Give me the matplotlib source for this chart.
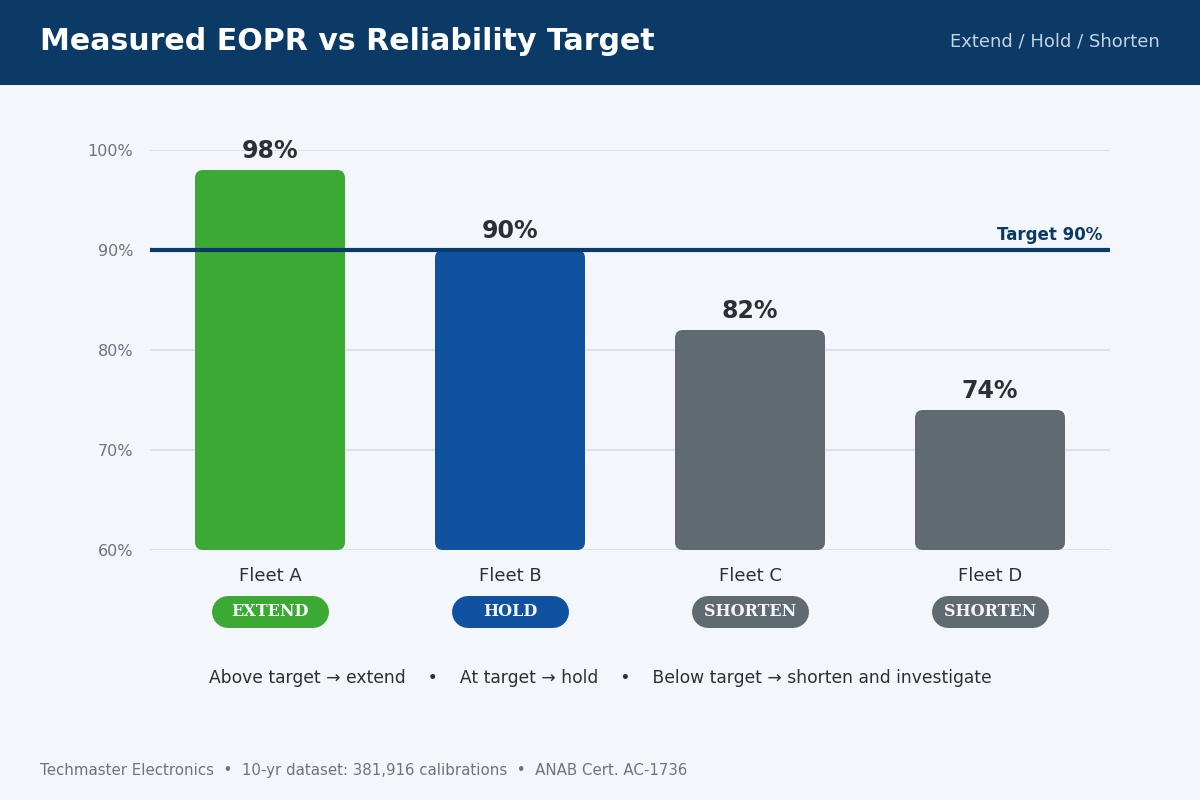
import matplotlib
matplotlib.use("Agg")
import matplotlib.pyplot as plt
from matplotlib.patches import FancyBboxPatch, Rectangle
from matplotlib.transforms import blended_transform_factory

categories = ["Fleet A", "Fleet B", "Fleet C", "Fleet D"]
eopr_values = [98, 90, 82, 74]
actions = ["EXTEND", "HOLD", "SHORTEN", "SHORTEN"]
target = 90
y_ticks = [60, 70, 80, 90, 100]
y_tick_labels = ["60%", "70%", "80%", "90%", "100%"]

BG = "#f3f6fa"
NAVY = "#0b3a66"
colors = {"EXTEND": "#3da935", "HOLD": "#1052a0", "SHORTEN": "#5f6b70"}
TEXT = "#2b3038"
MUTED = "#6b7580"

fig = plt.figure(figsize=(12, 8), dpi=100, facecolor=BG)

# header band
fig.patches.append(Rectangle((0, 1 - 85 / 800), 1, 85 / 800, transform=fig.transFigure,
                             facecolor=NAVY, edgecolor="none", zorder=0))
fig.text(40 / 1200, 1 - 42 / 800, "Measured EOPR vs Reliability Target", color="white",
         fontsize=21.6, fontweight="bold", ha="left", va="center")
fig.text(1160 / 1200, 1 - 42 / 800, "Extend / Hold / Shorten", color="#c5d3e3",
         fontsize=13, ha="right", va="center")

ax = fig.add_axes([150 / 1200, 250 / 800, 960 / 1200, 400 / 800])
ax.set_facecolor(BG)
ax.set_xlim(-0.5, len(categories) - 0.5)
ax.set_ylim(60, 100)
for s in ax.spines.values():
    s.set_visible(False)

for t in [60, 70, 80, 100]:
    ax.axhline(t, color="#d6e0e9", lw=1.3, zorder=1)
ax.axhline(target, color=NAVY, lw=3, zorder=3)
ax.text(len(categories) - 0.53, target + 0.65, f"Target {target}%", color=NAVY,
        fontsize=12, fontweight="bold", ha="right", va="bottom", zorder=4)

ax.set_yticks(y_ticks)
ax.set_yticklabels(y_tick_labels, color=MUTED, fontsize=11.5)
ax.tick_params(axis="y", length=0, pad=12)
ax.set_xticks([])

width = 150 / 240
bars = ax.bar(range(len(categories)), [v - 60 for v in eopr_values], bottom=60,
              width=width, alpha=0)
r_x = 8 / 240
r_y = 8 / 10
for b, v, a in zip(bars, eopr_values, actions):
    p = FancyBboxPatch((b.get_x(), 60), b.get_width(), v - 60,
                       boxstyle=f"round,pad=0,rounding_size={r_x}",
                       mutation_aspect=r_y / r_x,
                       facecolor=colors[a], edgecolor="none", zorder=2)
    ax.add_patch(p)
    ax.annotate(f"{v}%", (b.get_x() + b.get_width() / 2, v), xytext=(0, 5),
                textcoords="offset points", ha="center", va="bottom",
                fontsize=17, fontweight="bold", color=TEXT, zorder=5,
                annotation_clip=False)

trans = blended_transform_factory(ax.transData, ax.transAxes)
pill_h_px = 32
half_line = (117 - pill_h_px) / 2 / 240
for i, (c, a) in enumerate(zip(categories, actions)):
    ax.text(i, -26 / 400, c, transform=trans, ha="center", va="center",
            fontsize=13, color=TEXT, clip_on=False)
    ax.plot([i - half_line, i + half_line], [-62 / 400, -62 / 400], transform=trans,
            color=colors[a], lw=pill_h_px * 0.72, solid_capstyle="round",
            clip_on=False, zorder=3)
    ax.text(i, -62 / 400, a, transform=trans, ha="center", va="center",
            fontsize=11.5, fontweight="bold", family="DejaVu Serif", color="#f5f7fa",
            clip_on=False, zorder=4)

fig.text(0.5, 1 - 678 / 800,
         "Above target \u2192 extend    \u2022    At target \u2192 hold    \u2022    Below target \u2192 shorten and investigate",
         ha="center", va="center", fontsize=12.3, color=TEXT)
fig.text(40 / 1200, 1 - 770 / 800,
         "Techmaster Electronics  \u2022  10-yr dataset: 381,916 calibrations  \u2022  ANAB Cert. AC-1736",
         ha="left", va="center", fontsize=10.8, color=MUTED)

fig.savefig("out.png", dpi=100, facecolor=BG)
